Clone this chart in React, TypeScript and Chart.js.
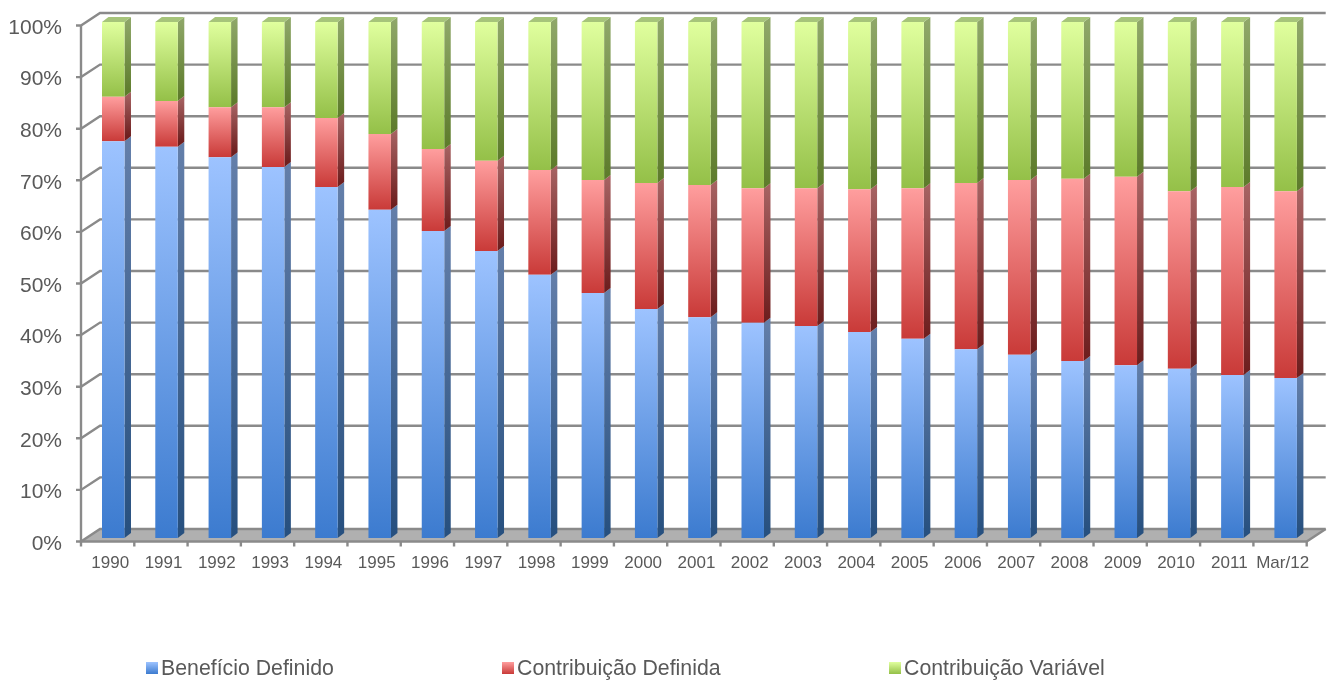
import React, { useEffect, useRef } from "react";
import { Chart, registerables } from "chart.js";

Chart.register(...registerables);

const categories = ["1990","1991","1992","1993","1994","1995","1996","1997","1998","1999","2000","2001","2002","2003","2004","2005","2006","2007","2008","2009","2010","2011","Mar/12"];
const beneficioDefinido = [76.9,75.8,73.8,71.9,68.0,63.6,59.5,55.6,51.0,47.5,44.4,42.8,41.7,41.1,39.9,38.6,36.6,35.5,34.3,33.5,32.8,31.6,31.0];
const contribuicaoDefinida = [8.6,8.9,9.7,11.6,13.4,14.7,15.9,17.5,20.3,21.9,24.4,25.6,26.1,26.7,27.7,29.2,32.2,33.9,35.3,36.5,34.4,36.4,36.2];
const contribuicaoVariavel = [14.5,15.3,16.5,16.5,18.6,21.7,24.6,26.9,28.7,30.6,31.2,31.6,32.2,32.2,32.4,32.2,31.2,30.6,30.4,30.0,32.8,32.0,32.8];

const FONT = "'Liberation Sans', Arial, sans-serif";
const TEXT = "#595959";
const GRID = "#8A8A8A";
const BAR_DX = 6.5;
const BAR_DY = 5;
const PALETTE = [
  { front: ["#9DC3FF", "#3C7BCF"], side: ["#647FAA", "#27507F"] },
  { front: ["#FF9E9E", "#C93A38"], side: ["#A86464", "#6E1F1F"] },
  { front: ["#E0FF9E", "#94C048"], side: ["#90A86A", "#5E7C2C"] },
];
const TOP_FACE = "#A6C47A";

function vGrad(ctx: CanvasRenderingContext2D, y0: number, y1: number, c: string[]) {
  const g = ctx.createLinearGradient(0, y0, 0, y1);
  g.addColorStop(0, c[0]);
  g.addColorStop(1, c[1]);
  return g;
}

function frontFill(paletteIndex: number) {
  return (c: any) => {
    const chart = c.chart;
    const y = chart.scales.y;
    const fallback = PALETTE[paletteIndex].front[1];
    if (!y || c.dataIndex === undefined) return fallback;
    let low = 0;
    for (let d = 0; d < c.datasetIndex; d++) low += chart.data.datasets[d].data[c.dataIndex];
    const high = low + chart.data.datasets[c.datasetIndex].data[c.dataIndex];
    const py0 = y.getPixelForValue(high);
    const py1 = y.getPixelForValue(low);
    if (!Number.isFinite(py0) || !Number.isFinite(py1)) return fallback;
    return vGrad(chart.ctx, py0, py1, PALETTE[paletteIndex].front);
  };
}

const frameAndSides = {
  id: "frameAndSides",
  beforeDatasetsDraw(chart: any) {
    const { ctx, scales } = chart;
    const y = scales.y;
    const x = scales.x;
    const step = x.getPixelForValue(1) - x.getPixelForValue(0);
    const frontL = x.getPixelForValue(0) - step / 2 - 5.6;
    const frontR = frontL + step * categories.length;
    const front = (p: number) => p + 3.5;
    const back = (p: number) => p - 9;
    const wallDx = 19;
    const y0 = y.getPixelForValue(0);
    const y100 = y.getPixelForValue(100);

    ctx.save();
    // floor
    ctx.fillStyle = "#B0B0B0";
    ctx.beginPath();
    ctx.moveTo(frontL, front(y0));
    ctx.lineTo(frontL + wallDx, back(y0));
    ctx.lineTo(frontR + wallDx, back(y0));
    ctx.lineTo(frontR, front(y0));
    ctx.closePath();
    ctx.fill();

    ctx.strokeStyle = GRID;
    ctx.lineWidth = 2.4;
    // grid lines on back and left walls
    y.ticks.forEach((t: any) => {
      const p = y.getPixelForValue(t.value);
      ctx.beginPath();
      ctx.moveTo(frontL - 5, front(p));
      ctx.lineTo(frontL, front(p));
      ctx.lineTo(frontL + wallDx, back(p));
      ctx.lineTo(frontR + wallDx, back(p));
      ctx.stroke();
    });
    // left axis
    ctx.beginPath();
    ctx.moveTo(frontL, front(y100));
    ctx.lineTo(frontL, front(y0));
    ctx.lineTo(frontR, front(y0));
    ctx.lineTo(frontR + wallDx, back(y0));
    ctx.stroke();
    // category ticks
    for (let i = 0; i <= categories.length; i++) {
      const tx = frontL + step * i;
      ctx.beginPath();
      ctx.moveTo(tx, front(y0));
      ctx.lineTo(tx, front(y0) + 5);
      ctx.stroke();
    }

    // bar sides and caps
    chart.data.datasets.forEach((_: any, d: number) => {
      chart.getDatasetMeta(d).data.forEach((bar: any) => {
        const right = bar.x + bar.width / 2;
        const top = bar.y;
        const bottom = bar.base;
        ctx.fillStyle = vGrad(ctx, top - BAR_DY, bottom - BAR_DY, PALETTE[d].side);
        ctx.beginPath();
        ctx.moveTo(right, top);
        ctx.lineTo(right + BAR_DX, top - BAR_DY);
        ctx.lineTo(right + BAR_DX, bottom - BAR_DY);
        ctx.lineTo(right, bottom);
        ctx.closePath();
        ctx.fill();
        if (d === chart.data.datasets.length - 1) {
          const left = bar.x - bar.width / 2;
          ctx.fillStyle = TOP_FACE;
          ctx.beginPath();
          ctx.moveTo(left, top);
          ctx.lineTo(left + BAR_DX, top - BAR_DY);
          ctx.lineTo(right + BAR_DX, top - BAR_DY);
          ctx.lineTo(right, top);
          ctx.closePath();
          ctx.fill();
        }
      });
    });
    ctx.restore();
  },
};

const LEGEND_X = [146, 502, 889];
const wideLegend = {
  id: "wideLegend",
  afterDraw(chart: any) {
    const { ctx } = chart;
    ctx.save();
    ctx.font = `21.3px ${FONT}`;
    ctx.textBaseline = "middle";
    ctx.textAlign = "left";
    chart.data.datasets.forEach((ds: any, d: number) => {
      const bx = LEGEND_X[d];
      ctx.fillStyle = vGrad(ctx, 662, 674, PALETTE[d].front);
      ctx.fillRect(bx, 662, 12, 12);
      ctx.fillStyle = TEXT;
      ctx.fillText(ds.label, bx + 15, 669.5);
    });
    ctx.restore();
  },
};

export default function App() {
  const ref = useRef<HTMLCanvasElement>(null);
  useEffect(() => {
    if (!ref.current) return;
    const chart = new Chart(ref.current, {
      type: "bar",
      data: {
        labels: categories,
        datasets: [
          { label: "Benefício Definido", data: beneficioDefinido, backgroundColor: frontFill(0) },
          { label: "Contribuição Definida", data: contribuicaoDefinida, backgroundColor: frontFill(1) },
          { label: "Contribuição Variável", data: contribuicaoVariavel, backgroundColor: frontFill(2) },
        ],
      },
      options: {
        responsive: false,
        animation: false,
        layout: { autoPadding: false, padding: { left: 0, right: 17.7, top: 22, bottom: 0 } },
        datasets: { bar: { categoryPercentage: 1, barPercentage: 0.422, borderWidth: 0 } },
        plugins: { legend: { display: false }, tooltip: { enabled: false }, title: { display: false } },
        scales: {
          x: {
            stacked: true,
            grid: { display: false, drawTicks: false },
            border: { display: false },
            afterFit: (s: any) => { s.height = 142; s.paddingLeft = 0; s.paddingRight = 0; },
            ticks: {
              autoSkip: false, maxRotation: 0, minRotation: 0,
              padding: 15, labelOffset: -3,
              color: TEXT, font: { family: FONT, size: 17 },
            },
          },
          y: {
            stacked: true, min: 0, max: 100,
            grid: { display: false, drawTicks: false },
            border: { display: false },
            afterFit: (s: any) => { s.width = 86.6; s.paddingTop = 0; s.paddingBottom = 0; },
            ticks: {
              stepSize: 10, padding: 24.6, labelOffset: 6,
              color: TEXT, font: { family: FONT, size: 21 },
              callback: (v: any) => `${v}%`,
            },
          },
        },
      },
      plugins: [frameAndSides, wideLegend],
    } as any);
    return () => chart.destroy();
  }, []);
  return (
    <canvas
      ref={ref}
      width={1330}
      height={680}
      style={{ position: "absolute", left: 0, top: 0, display: "block" }}
    />
  );
}
